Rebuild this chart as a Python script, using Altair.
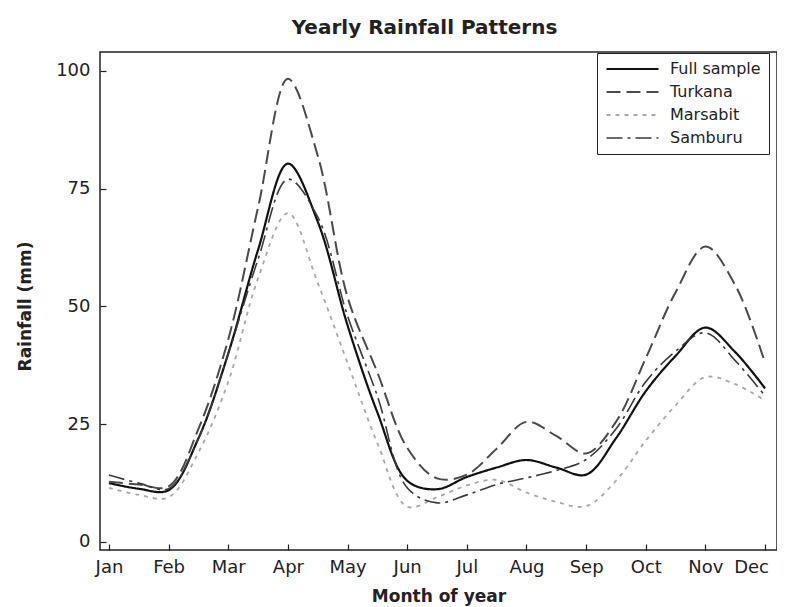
import altair as alt
import pandas as pd

# Half-month grid (month index: 1 = Jan ... 12 = Dec)
months = [1, 1.5, 2, 2.5, 3, 3.5, 4, 4.5, 5, 5.5, 6, 6.5, 7, 7.5, 8, 8.5,
          9, 9.5, 10, 10.5, 11, 11.5, 12]
month_labels = ["Jan", "Feb", "Mar", "Apr", "May", "Jun", "Jul", "Aug",
                "Sep", "Oct", "Nov", "Dec"]
series_names = ["Full sample", "Turkana", "Marsabit", "Samburu"]

full_sample = [12.5, 11.3, 11.0, 22, 40, 62, 80.3, 68, 46, 27.5, 13, 11.2,
               13.8, 15.8, 17.4, 15.8, 14.3, 22, 32, 39.5, 45.5, 40.3, 32.6]
turkana = [12.8, 12.2, 11.8, 24, 43, 71, 98.3, 82, 52, 36, 20, 13.5,
           14.3, 19.8, 25.5, 22.5, 18.8, 25.5, 39, 53, 62.7, 54.5, 38]
marsabit = [11.5, 10, 9.5, 19, 34, 56, 69.8, 55, 38, 21, 7.5, 9.5,
            12, 13.2, 10.5, 8.5, 7.6, 13, 21.5, 29, 35, 33.5, 30]
samburu = [14.2, 12.5, 11.3, 22, 40, 60, 77, 69, 48, 31, 11.5, 8.3,
           10, 12.2, 13.6, 15.2, 17.5, 24, 34, 40.5, 44.4, 38.5, 31]

y_ticks = [0, 25, 50, 75, 100]

rows = []
for name, vals in zip(series_names, [full_sample, turkana, marsabit, samburu]):
    for m, v in zip(months, vals):
        rows.append({"month": m, "rain": v, "series": name})
df = pd.DataFrame(rows)

legend = alt.Legend(
    title=None, orient="none", legendX=497, legendY=1,
    strokeColor="#222", fillColor="white", padding=8,
    symbolType="stroke", symbolSize=2704, clipHeight=16, rowPadding=7,
    labelFont="DejaVu Sans", labelFontSize=16, labelColor="#222",
    labelOffset=10,
)

label_expr = "[" + ",".join("'%s'" % s for s in month_labels) + "][datum.value - 1]"

chart = alt.Chart(df).mark_line(interpolate="catmull-rom").encode(
    x=alt.X("month:Q",
            scale=alt.Scale(domain=[0.85, 12.2], nice=False, zero=False),
            axis=alt.Axis(values=list(range(1, 13)), labelExpr=label_expr,
                          title="Month of year", labelPadding=8,
                          titlePadding=12,
                          labelOffset={"condition": {"test": "datum.value == 12", "value": -14},
                                       "value": 0})),
    y=alt.Y("rain:Q",
            scale=alt.Scale(domain=[-1.7, 104], nice=False, zero=False),
            axis=alt.Axis(values=y_ticks, title="Rainfall (mm)",
                          labelPadding=10, titleX=-72, titleY=254,
                          titleBaseline="bottom")),
    stroke=alt.Stroke("series:N",
                      scale=alt.Scale(domain=series_names,
                                      range=["#111111", "#4a4a4a", "#a8a8a8", "#3a3a3a"]),
                      legend=legend),
    strokeDash=alt.StrokeDash("series:N",
                              scale=alt.Scale(domain=series_names,
                                              range=[[1, 0], [14, 6], [4, 5], [16, 5, 3, 5]]),
                              legend=legend),
    strokeWidth=alt.StrokeWidth("series:N",
                                scale=alt.Scale(domain=series_names,
                                                range=[2.2, 1.6, 1.6, 1.6]),
                                legend=legend),
).properties(
    width=677, height=498,
    padding={"left": 92, "top": 44, "right": 0, "bottom": 56},
    autosize="none",
    title=alt.TitleParams("Yearly Rainfall Patterns", font="DejaVu Sans",
                          fontSize=20, fontWeight="bold", offset=14, dx=-14,
                          color="#222"),
).configure_view(
    stroke="#222", strokeWidth=1.5
).configure_axis(
    domain=False, grid=False, tickColor="#222", tickSize=6, tickWidth=1.2,
    offset=-6, labelFont="DejaVu Sans", labelFontSize=18, labelColor="#222",
    titleFont="DejaVu Sans", titleFontSize=17, titleFontWeight="bold",
    titleColor="#222",
)

chart.save("out.html", embed_options={"renderer": "svg", "actions": False})
